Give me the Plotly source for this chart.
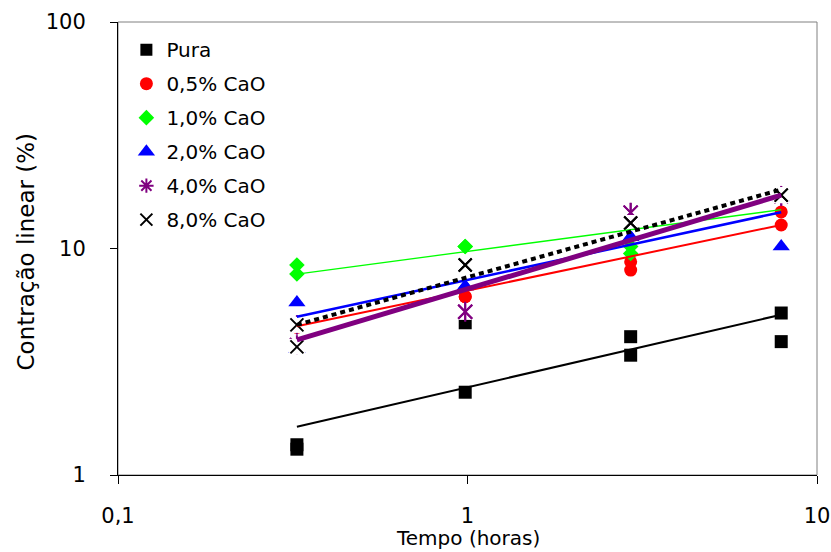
import plotly.graph_objects as go
import numpy as np

# Tempo (horas) for each measurement (two replicates per time)
tempo = [0.325, 0.325, 0.985, 0.985, 2.93, 2.93, 7.9, 7.9]

# Contração linear (%) per composition
pura   = [1.36, 1.30, 2.32, 4.70, 4.08, 3.38, 5.19, 3.88]
cao_05 = [4.50, 4.50, 6.13, 6.13, 8.73, 8.03, 14.5, 12.7]
cao_10 = [8.46, 7.72, 10.2, 10.2, 10.2, 9.50, 17.0, 17.1]
cao_20 = [5.77, 3.60, 6.80, 6.80, 11.2, 11.2, 10.2, 16.8]
cao_40 = [4.60, 3.75, 5.26, 5.26, 14.4, 14.4, 17.0, 17.1]
cao_80 = [4.60, 3.68, 8.46, 8.46, 12.96, 12.96, 17.2, 17.2]

labels = ["Pura", "0,5% CaO", "1,0% CaO", "2,0% CaO", "4,0% CaO", "8,0% CaO"]

# Power trendline parameters (y = a * x^b)
trend_a = [2.44, 6.52, 9.71, 7.27, 6.63, 7.47]
trend_b = [0.357, 0.3225, 0.205, 0.333, 0.461, 0.431]

x_ticks = [0.1, 1, 10]
x_ticktext = ["0,1", "1", "10"]
y_ticks = [1, 10, 100]
y_ticktext = ["1", "10", "100"]

FONT = "DejaVu Sans"

fig = go.Figure()

# legend-only entries
legend_specs = [
    dict(symbol="square", color="black", size=12, line=dict(width=0)),
    dict(symbol="circle", color="#FF0000", size=13, line=dict(width=0)),
    dict(symbol="diamond", color="#00FF00", size=12, line=dict(width=0)),
    dict(symbol="triangle-up", color="#0000FF", size=15, line=dict(width=0)),
    dict(symbol="asterisk-open", color="#800080", size=12, line=dict(width=2, color="#800080")),
    dict(symbol="x-thin-open", color="black", size=12, line=dict(width=2, color="black")),
]
for lab, spec in zip(labels, legend_specs):
    fig.add_trace(go.Scatter(x=[None], y=[None], mode="markers", name=lab,
                             legendgroup=lab, marker=spec, showlegend=True))

def markers(y, **marker):
    fig.add_trace(go.Scatter(x=tempo, y=y, mode="markers", showlegend=False,
                             hoverinfo="x+y", marker=marker))

markers(pura, symbol="square", color="black", size=13, line=dict(width=0))
markers(cao_05, symbol="circle", color="#FF0000", size=13, line=dict(width=0))
markers(cao_10, symbol="diamond", color="#00FF00", size=12, line=dict(width=0))
markers(cao_20, symbol="triangle-up", color="#0000FF", size=15, line=dict(width=0))
# 4,0% CaO: Excel star marker (white box + x + vertical bar)
markers(cao_40, symbol="square", color="white", size=16, line=dict(width=0))
markers(cao_40, symbol="x-thin-open", color="#800080", size=14, line=dict(width=2, color="#800080"))
markers(cao_40, symbol="line-ns-open", color="#800080", size=14, line=dict(width=2, color="#800080"))
# 8,0% CaO: Excel x marker (white box + x)
markers(cao_80, symbol="square", color="white", size=16, line=dict(width=0))
markers(cao_80, symbol="x-thin-open", color="black", size=13, line=dict(width=2, color="black"))

# power trendlines over the data range
x_line = np.array([min(tempo), max(tempo)])
line_styles = [
    dict(color="black", width=2),
    dict(color="#FF0000", width=2),
    dict(color="#00FF00", width=1.3),
    dict(color="#0000FF", width=2.5),
    dict(color="#800080", width=5),
    dict(color="black", width=4, dash="5px,4px"),
]
for a, b, st in zip(trend_a, trend_b, line_styles):
    fig.add_trace(go.Scatter(x=x_line, y=a * x_line ** b, mode="lines",
                             showlegend=False, hoverinfo="skip", line=st))

fig.update_layout(
    width=831, height=552,
    margin=dict(l=118, r=14, t=22, b=77),
    paper_bgcolor="white", plot_bgcolor="white",
    font=dict(family=FONT, color="black"),
    showlegend=True,
    legend=dict(x=0.012, y=0.982, xanchor="left", yanchor="top",
                font=dict(size=20, family=FONT), bgcolor="rgba(0,0,0,0)",
                traceorder="grouped", tracegroupgap=5, itemsizing="trace"),
    shapes=[dict(type="rect", xref="paper", yref="paper", x0=0, y0=0, x1=1, y1=1,
                 line=dict(color="#808080", width=1), layer="below")],
    annotations=[
        dict(text="Tempo (horas)", xref="paper", yref="paper", x=0.5, y=0,
             yanchor="middle", yshift=-63, showarrow=False, font=dict(size=20, family=FONT)),
        dict(text="Contração linear (%)", xref="paper", yref="paper", x=0, y=0.5,
             xanchor="center", yanchor="middle", xshift=-93, yshift=-3, textangle=-90,
             showarrow=False, font=dict(size=23, family=FONT)),
    ],
)
fig.update_xaxes(type="log", range=[-1, 1], tickvals=x_ticks, ticktext=x_ticktext,
                 ticks="outside", ticklen=8, tickcolor="black", showline=True,
                 linecolor="black", linewidth=1, showgrid=False, zeroline=False,
                 tickfont=dict(size=21, family=FONT), ticklabelstandoff=14,
                 automargin=False)
fig.update_yaxes(type="log", range=[0, 2], tickvals=y_ticks, ticktext=y_ticktext,
                 ticks="outside", ticklen=7, tickcolor="black", showline=True,
                 linecolor="black", linewidth=1, showgrid=False, zeroline=False,
                 tickfont=dict(size=21, family=FONT), ticklabelstandoff=20,
                 automargin=False)

fig.write_html("out.html")
